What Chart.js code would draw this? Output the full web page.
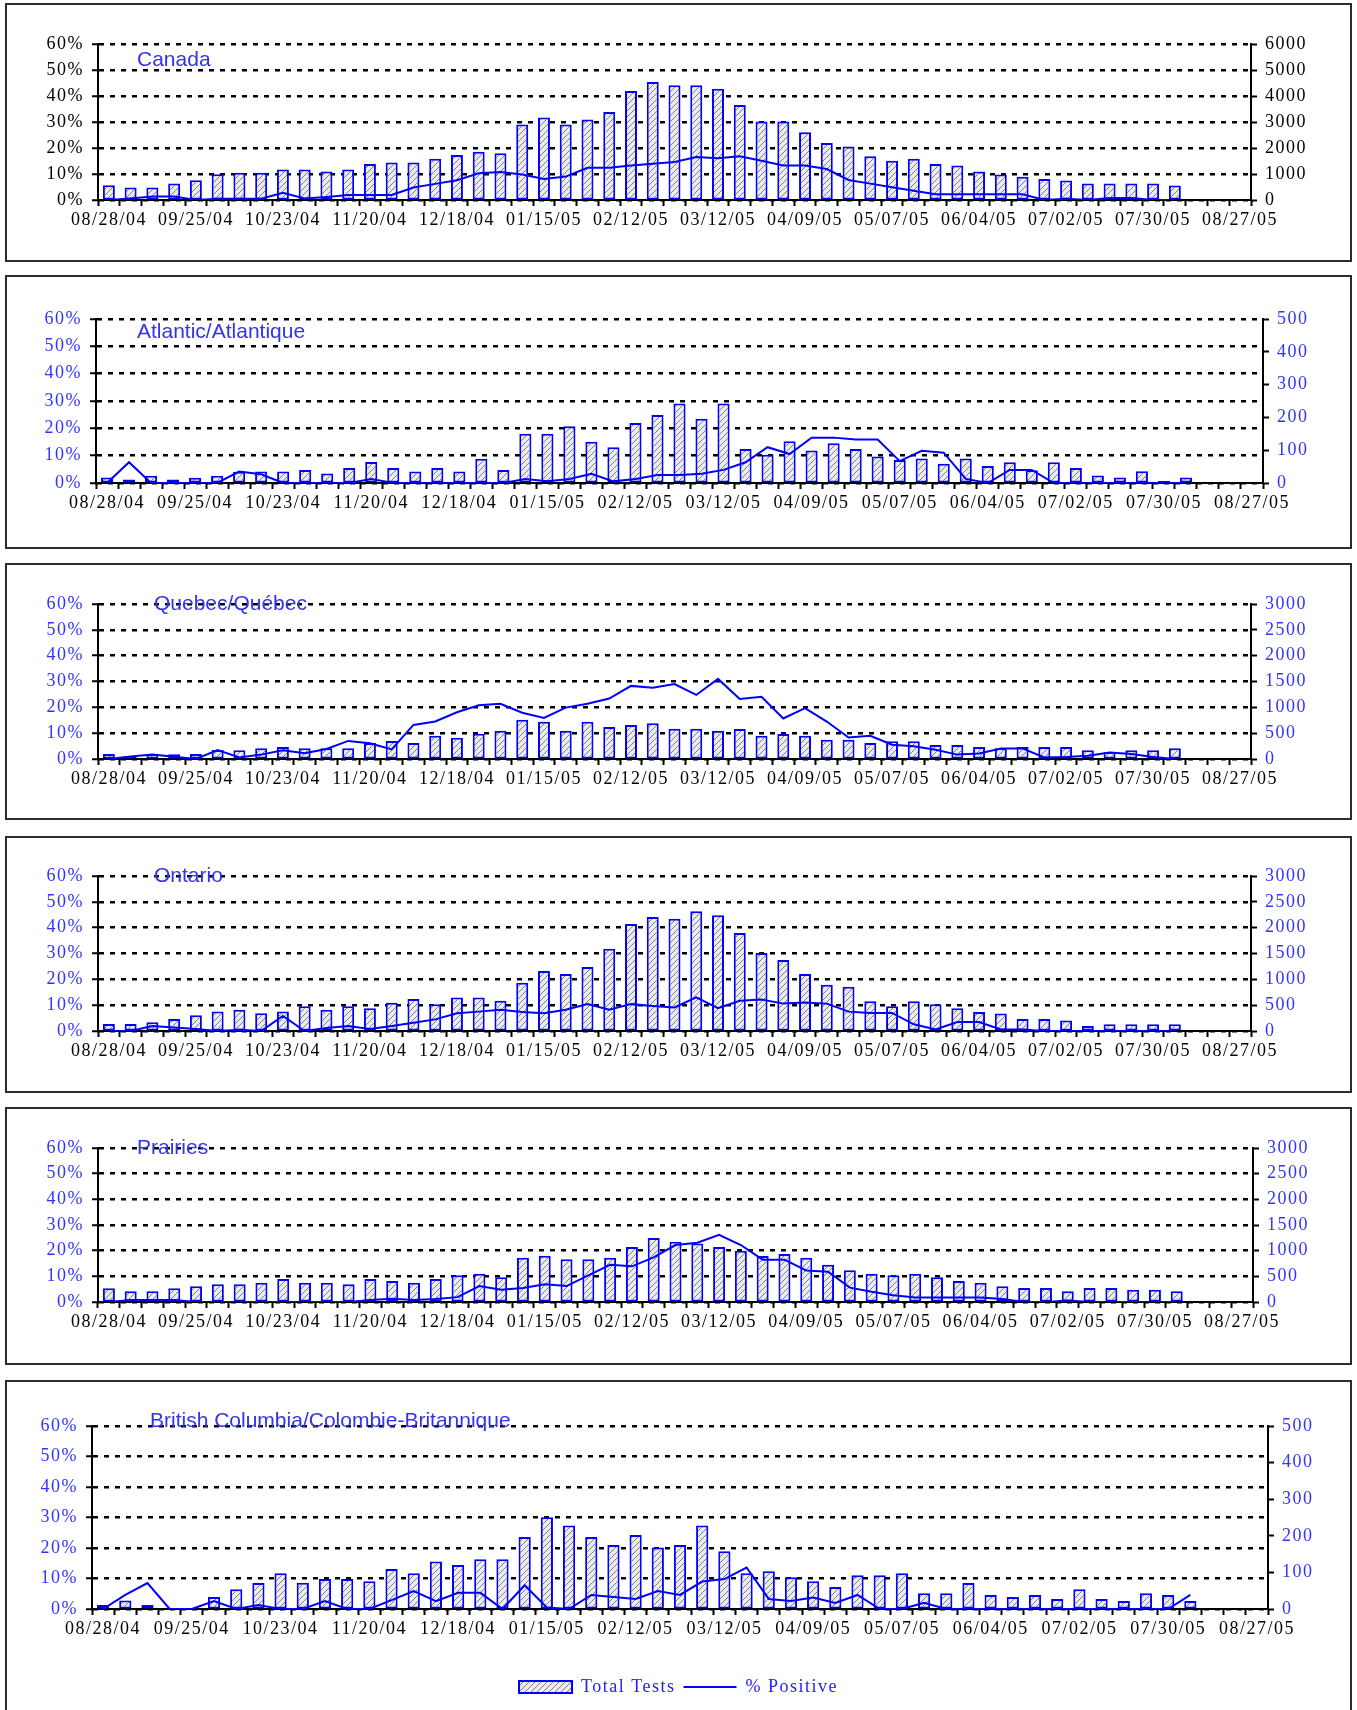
<!DOCTYPE html>
<html lang="en">
<head>
<meta charset="UTF-8" />
<title>Influenza tests by region, 2004-2005</title>
<script src="https://cdn.jsdelivr.net/npm/chart.js@4.4.0/dist/chart.umd.min.js"></script>
<style>
  body { margin: 0; background: #fff; width: 1357px; height: 1710px; overflow: hidden; position: relative; }
  .panel { position: absolute; left: 5px; width: 1347px; border: 2px solid #2b2b2b; box-sizing: border-box; background: #fff; }
  .panel canvas { display: block; }
</style>
</head>
<body>
<div class="panel" style="top:3px;height:259px"><canvas id="c1" width="1343" height="255"></canvas></div>
<div class="panel" style="top:275px;height:274px"><canvas id="c2" width="1343" height="270"></canvas></div>
<div class="panel" style="top:563px;height:257px"><canvas id="c3" width="1343" height="253"></canvas></div>
<div class="panel" style="top:836px;height:257px"><canvas id="c4" width="1343" height="253"></canvas></div>
<div class="panel" style="top:1107px;height:258px"><canvas id="c5" width="1343" height="254"></canvas></div>
<div class="panel" style="top:1380px;height:340px"><canvas id="c6" width="1343" height="336"></canvas></div>
<script>
// weekly report dates
const weeks = ['08/28/04','09/04/04','09/11/04','09/18/04','09/25/04','10/02/04','10/09/04','10/16/04','10/23/04','10/30/04',
  '11/06/04','11/13/04','11/20/04','11/27/04','12/04/04','12/11/04','12/18/04','12/25/04','01/01/05','01/08/05',
  '01/15/05','01/22/05','01/29/05','02/05/05','02/12/05','02/19/05','02/26/05','03/05/05','03/12/05','03/19/05',
  '03/26/05','04/02/05','04/09/05','04/16/05','04/23/05','04/30/05','05/07/05','05/14/05','05/21/05','05/28/05',
  '06/04/05','06/11/05','06/18/05','06/25/05','07/02/05','07/09/05','07/16/05','07/23/05','07/30/05','08/06/05',
  '08/13/05','08/20/05','08/27/05']

const panelNames = ['Canada', 'Atlantic/Atlantique', 'Quebec/Québec', 'Ontario', 'Prairies', 'British Columbia/Colombie-Britannique']
const testAxisMax = [6000, 500, 3000, 3000, 3000, 500]
const testAxisStep = [1000, 100, 500, 500, 500, 100]

const canadaTests = [570,480,480,630,760,990,1045,1045,1175,1175, 1100,1175,1380,1445,1445,1590,1730,1860,1795,2900,
  3175,2900,3100,3380,4190,4540,4410,4410,4280,3650, 3020,3020,2610,2190,2060,1680,1510,1590,1380,1330,
  1100,980,890,810,750,630,630,630,630,555, null,null,null]
const canadaPositive = [0,0.6,1.3,1.3,0,0.5,0.5,0.5,2.8,0.6, 1.2,1.9,1.9,1.9,4.8,6.2,7.6,10.3,10.8,9.8,
  8.1,9.0,12.4,12.4,13.3,13.9,14.6,16.5,16.1,16.8, 15.1,13.3,13.3,11.9,7.7,6.3,4.9,3.6,2.2,2.2,
  2.2,2.2,2.2,0,0.5,0,0.8,0.8,0,0, null,null,null]

const atlanticTests = [17,11,22,11,16,22,34,35,35,40, 29,46,64,46,35,46,35,74,40,150,
  150,173,126,109,183,207,242,196,242,104, 86,127,99,121,104,81,70,75,59,75,
  52,63,39,63,46,23,17,36,6,17, null,null,null]
const atlanticPositive = [0,7.6,0,0,0,0,4.2,3.2,0,0, 0,0,1.5,0,0,0,0,0,0,1.5,
  0.6,1.5,3.4,0.6,1.5,2.9,2.9,3.4,4.8,7.6, 13.1,10.6,16.6,16.6,15.9,15.9,8.0,11.8,11.1,1.5,
  0,4.8,4.8,0,0,0,0,0,0,0, null,null,null]

const quebecTests = [97,58,97,90,97,174,168,206,232,206, 206,206,310,348,310,452,413,490,548,761,
  723,548,723,619,658,690,587,587,548,581, 452,484,452,374,374,310,342,342,271,271,
  232,206,232,232,232,168,135,168,168,206, null,null,null]
const quebecPositive = [0,1.0,1.7,0.9,0,3.5,0.6,1.7,3.4,2.2, 3.9,7.0,6.1,3.7,13.2,14.5,18.1,20.8,21.4,17.9,
  15.9,19.9,21.4,23.4,28.3,27.6,29.0,24.8,31.0,23.2, 24.1,15.7,19.7,14.5,8.3,9.0,5.5,4.9,3.6,1.7,
  2.1,4.1,4.1,0.6,0.8,1.3,2.5,1.9,0.8,0, null,null,null]

const ontarioTests = [136,136,169,234,305,376,409,344,376,480, 409,480,441,545,617,519,649,649,584,935,
  1162,1103,1240,1590,2070,2207,2174,2317,2240,1895, 1512,1376,1103,896,857,578,480,578,519,441,
  370,337,234,234,201,97,130,130,130,130, null,null,null]
const ontarioPositive = [0,0,1.9,1.4,0.8,0,0.5,0,5.8,0, 1.2,1.9,0.8,1.9,3.2,4.5,6.9,7.5,8.2,7.4,
  6.9,8.2,10.4,8.2,10.4,9.7,9.1,13.0,8.8,11.7, 12.2,10.6,11.0,10.6,7.5,7.0,7.0,2.6,0.6,3.5,
  3.5,0.6,0.6,0,0,0,0,0,0,0, null,null,null]

const prairiesTests = [266,208,208,266,305,344,344,376,448,376, 376,344,448,409,376,448,519,552,480,863,
  902,831,831,863,1071,1246,1175,1142,1071,1000, 896,935,863,727,617,552,519,552,480,409,
  376,305,273,273,208,273,273,240,240,208, null,null,null]
const prairiesPositive = [0,0.8,0.8,0.8,0,0,0,0,0,0, 0,0,0.8,1.3,0.8,1.2,1.9,6.2,4.8,5.5,
  6.9,6.2,10.4,14.5,13.9,17.4,22.2,23.1,26.2,22.2, 16.5,16.5,12.3,11.8,5.6,4.0,2.6,1.8,1.8,1.8,
  1.8,1.2,0,0,0.6,0,0,0,0,0, null,null,null]

const bcTests = [11,23,11,null,null,33,54,71,98,72, 82,82,76,109,98,130,120,136,136,197,
  251,228,197,175,202,168,175,228,158,98, 103,87,76,60,92,92,98,43,43,71,
  38,33,38,27,54,27,22,43,38,22, null,null,null]
const bcPositive = [0,4.6,8.5,0,0,2.6,0,1.3,0,0, 2.6,0,0,2.9,5.9,2.6,5.3,5.3,0,7.8,
  0.5,0,4.6,3.9,3.3,5.9,4.6,9.0,9.8,13.6, 3.3,2.6,3.8,2.0,4.6,0,0,2.0,0,0,
  0,0,0,0,0,0,0,0,0,4.6, null,null,null]

const testSeries = [canadaTests, atlanticTests, quebecTests, ontarioTests, prairiesTests, bcTests]
const positiveSeries = [canadaPositive, atlanticPositive, quebecPositive, ontarioPositive, prairiesPositive, bcPositive]

// plot geometry of each panel (canvas pixels)
const layouts = [
  { top: 39, xH: 60, yW: 91, y1W: 99, dx: 39, dy: 16, tickColor: '#000' },
  { top: 42, xH: 64, yW: 89, y1W: 87, dx: 41, dy: 13, tickColor: '#3333ff' },
  { top: 39, xH: 59, yW: 91, y1W: 99, dx: 56, dy: 0, tickColor: '#3333ff' },
  { top: 38, xH: 60, yW: 91, y1W: 99, dx: 56, dy: 0, tickColor: '#3333ff' },
  { top: 39, xH: 61, yW: 91, y1W: 97, dx: 39, dy: 0, tickColor: '#3333ff' },
  { top: 44, xH: 61, yW: 85, y1W: 82, dx: 58, dy: -5, tickColor: '#3333ff', legend: true, bottom: 12 },
]

const serif = '"Liberation Serif", "Times New Roman", serif'
const BLUE = '#0000ff'

function hatch() {
  const c = document.createElement('canvas')
  c.width = 6
  c.height = 6
  const g = c.getContext('2d')
  g.fillStyle = '#ececec'
  g.fillRect(0, 0, 6, 6)
  g.strokeStyle = '#7f7f7f'
  g.lineWidth = 1
  g.beginPath()
  g.moveTo(0, 6); g.lineTo(6, 0)
  g.moveTo(-1, 1); g.lineTo(1, -1)
  g.moveTo(5, 7); g.lineTo(7, 5)
  g.stroke()
  return g.createPattern(c, 'repeat')
}
const hatchFill = hatch()

// Excel-like spaced serif text
const spacing = {
  id: 'spacing',
  beforeLayout(chart) { chart.ctx.letterSpacing = '1.5px' },
  beforeDraw(chart) { chart.ctx.letterSpacing = '1.5px' },
}

const panelTitle = {
  id: 'panelTitle',
  afterDatasetsDraw(chart, args, opts) {
    const { ctx, chartArea } = chart
    ctx.save()
    ctx.letterSpacing = '0px'
    ctx.font = '21px "Liberation Sans", Arial, sans-serif'
    ctx.fillStyle = '#3333ee'
    ctx.textBaseline = 'middle'
    ctx.fillText(opts.text, chartArea.left + opts.dx, chartArea.top + opts.dy)
    ctx.restore()
  },
}

function makePanel(i) {
  const L = layouts[i]
  const tickFont = { family: serif, size: 18 }
  return new Chart(document.getElementById('c' + (i + 1)), {
    type: 'bar',
    data: {
      labels: weeks,
      datasets: [
        {
          label: 'Total Tests',
          data: testSeries[i],
          yAxisID: 'y1',
          backgroundColor: hatchFill,
          borderColor: BLUE,
          borderWidth: 2,
          borderSkipped: false,
          barPercentage: 0.55,
          categoryPercentage: 1,
          pointStyle: 'rect',
          order: 1,
        },
        {
          type: 'line',
          label: '% Positive',
          data: positiveSeries[i],
          yAxisID: 'y',
          borderColor: BLUE,
          backgroundColor: BLUE,
          borderWidth: 2,
          pointRadius: 0,
          tension: 0,
          pointStyle: 'line',
          order: 0,
        },
      ],
    },
    options: {
      responsive: false,
      animation: false,
      layout: { padding: { top: L.top, left: 0, right: 0, bottom: L.bottom || 0 } },
      plugins: {
        tooltip: { enabled: false },
        legend: {
          display: !!L.legend,
          position: 'bottom',
          labels: {
            usePointStyle: true,
            pointStyleWidth: 53,
            boxHeight: 12,
            padding: 8,
            color: '#2222ff',
            font: { family: serif, size: 18 },
            sort: (a, b) => a.datasetIndex - b.datasetIndex,
          },
        },
        panelTitle: { text: panelNames[i], dx: L.dx, dy: L.dy },
      },
      scales: {
        x: {
          offset: true,
          grid: { display: true, offset: true, drawOnChartArea: false, drawTicks: true, tickLength: 6, tickWidth: 2, tickColor: '#000' },
          border: { display: true, color: '#000', width: 2 },
          ticks: {
            autoSkip: false,
            maxRotation: 0,
            minRotation: 0,
            padding: 3,
            color: '#000',
            font: tickFont,
            callback(v, idx) { return idx % 4 === 0 ? this.getLabelForValue(v) : '' },
          },
          afterFit(s) { s.height = L.xH },
        },
        y: {
          position: 'left',
          min: 0,
          max: 60,
          ticks: { stepSize: 10, padding: 8, color: L.tickColor, font: tickFont, callback: (v) => v + '%' },
          grid: { color: '#000', lineWidth: 2.5, drawTicks: true, tickLength: 6, tickWidth: 2, tickColor: '#000', tickBorderDash: [] },
          border: { display: true, color: '#000', width: 2, dash: [5, 6] },
          afterFit(s) { s.width = L.yW },
        },
        y1: {
          position: 'right',
          min: 0,
          max: testAxisMax[i],
          ticks: { stepSize: testAxisStep[i], padding: 8, color: L.tickColor, font: tickFont, callback: (v) => String(v) },
          grid: { drawOnChartArea: false, drawTicks: true, tickLength: 6, tickWidth: 2, tickColor: '#000' },
          border: { display: true, color: '#000', width: 2 },
          afterFit(s) { s.width = L.y1W },
        },
      },
    },
    plugins: [spacing, panelTitle],
  })
}

for (let i = 0; i < 6; i++) makePanel(i)
</script>
</body>
</html>
